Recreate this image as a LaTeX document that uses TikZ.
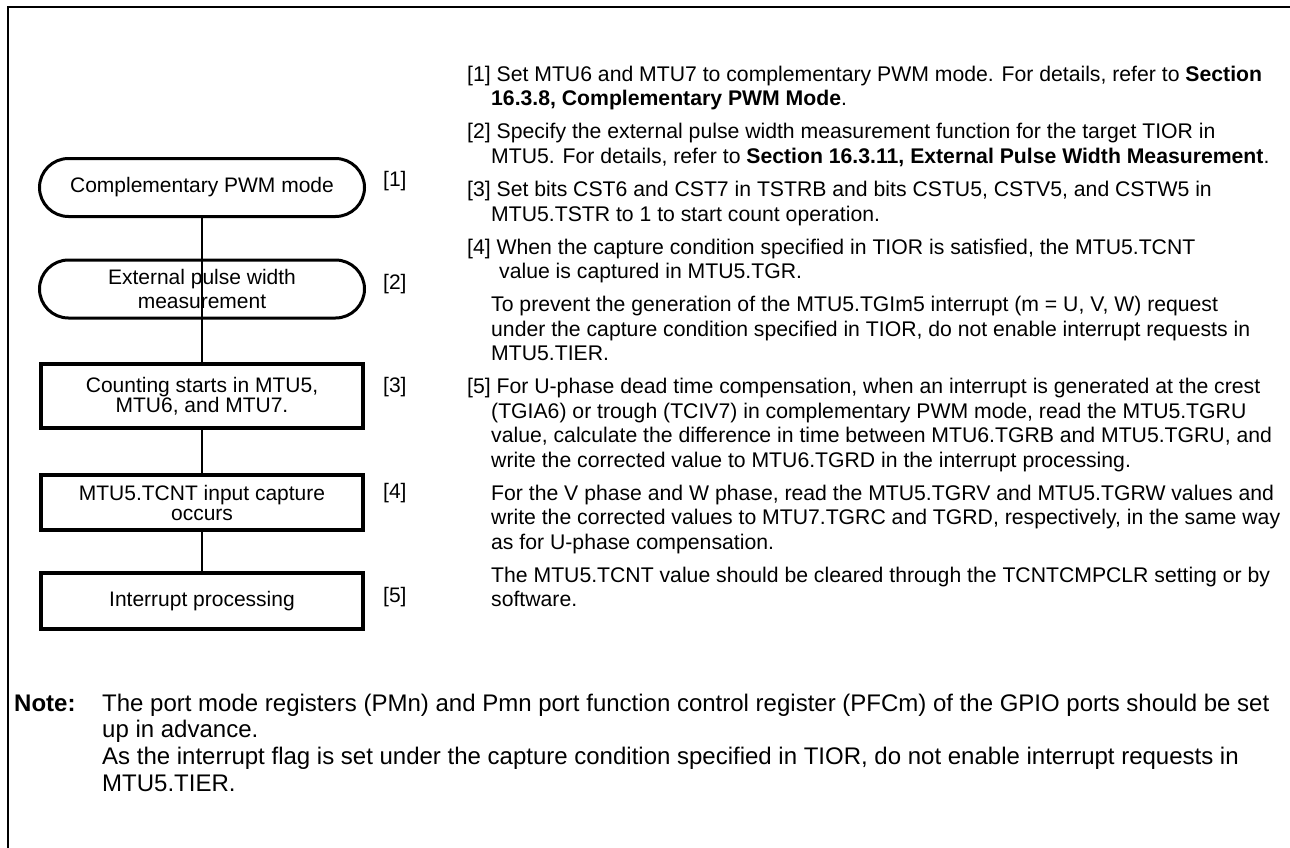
\documentclass[tikz,border=0pt]{standalone}
\usepackage{fontspec}
\setmainfont{Liberation Sans}
\begin{document}
\begin{tikzpicture}[x=1pt,y=-1pt,
  stad/.style={draw, line width=3pt, rectangle, rounded corners=29pt, minimum width=325pt, minimum height=58pt, inner sep=0pt, align=center, font=\fontsize{21}{24}\selectfont},
  proc/.style={draw, line width=4pt, rectangle, minimum width=322pt, inner sep=0pt, align=center, font=\fontsize{21}{20}\selectfont},
  lab/.style={anchor=west, inner sep=0pt, font=\fontsize{21}{24}\selectfont},
  conn/.style={line width=2.5pt},
  txt/.style={anchor=base west, inner sep=0pt, font=\fontsize{21.2}{25}\selectfont},
  notetxt/.style={anchor=base west, inner sep=0pt, font=\fontsize{24}{27}\selectfont},
  frame/.style={line width=2pt},
]
\useasboundingbox (0,0) rectangle (1290,848);
\draw[frame] (8,848) -- (8,7) -- (1290,7);

% flowchart
\node[stad] (b1) at (202,187.5) {Complementary PWM mode};
\node[stad] (b2) at (202,289) {External pulse width\\measurement};
\node[proc, minimum height=64pt] (b3) at (202,396) {Counting starts in MTU5,\\MTU6, and MTU7.};
\node[proc, minimum height=55pt] (b4) at (202,502.5) {MTU5.TCNT input capture\\occurs};
\node[proc, minimum height=56pt] (b5) at (202,601) {Interrupt processing};

\draw[conn] (b1.south) -- (b3.north);
\draw[conn] (b3.south) -- (b4.north);
\draw[conn] (b4.south) -- (b5.north);

\node[lab] (l1) at (383,181) {[1]};
\node[lab] (l2) at (383,284) {[2]};
\node[lab] (l3) at (383,387) {[3]};
\node[lab] (l4) at (383,493) {[4]};
\node[lab] (l5) at (383,597) {[5]};

% description text
\node[txt] (r1) at (467,81.5) {[1] Set MTU6 and MTU7 to complementary PWM mode. For details, refer to \textbf{Section}};
\node[txt] (r2) at (491,106) {\textbf{16.3.8, Complementary PWM Mode}.};
\node[txt] (r3) at (467,139) {[2] Specify the external pulse width measurement function for the target TIOR in};
\node[txt] (r4) at (491,163.5) {MTU5. For details, refer to \textbf{Section 16.3.11, External Pulse Width Measurement}.};
\node[txt] (r5) at (467,196.5) {[3] Set bits CST6 and CST7 in TSTRB and bits CSTU5, CSTV5, and CSTW5 in};
\node[txt] (r6) at (491,221) {MTU5.TSTR to 1 to start count operation.};
\node[txt] (r7) at (467,254) {[4] When the capture condition specified in TIOR is satisfied, the MTU5.TCNT};
\node[txt] (r8) at (499,278.5) {value is captured in MTU5.TGR.};
\node[txt] (r9) at (491,311.5) {To prevent the generation of the MTU5.TGIm5 interrupt (m = U, V, W) request};
\node[txt] (r10) at (491,336) {under the capture condition specified in TIOR, do not enable interrupt requests in};
\node[txt] (r11) at (491,360.5) {MTU5.TIER.};
\node[txt] (r12) at (467,393.5) {[5] For U-phase dead time compensation, when an interrupt is generated at the crest};
\node[txt] (r13) at (491,418) {(TGIA6) or trough (TCIV7) in complementary PWM mode, read the MTU5.TGRU};
\node[txt] (r14) at (491,442.5) {value, calculate the difference in time between MTU6.TGRB and MTU5.TGRU, and};
\node[txt] (r15) at (491,467) {write the corrected value to MTU6.TGRD in the interrupt processing.};
\node[txt] (r16) at (491,500) {For the V phase and W phase, read the MTU5.TGRV and MTU5.TGRW values and};
\node[txt] (r17) at (491,524.5) {write the corrected values to MTU7.TGRC and TGRD, respectively, in the same way};
\node[txt] (r18) at (491,549) {as for U-phase compensation.};
\node[txt] (r19) at (491,582) {The MTU5.TCNT value should be cleared through the TCNTCMPCLR setting or by};
\node[txt] (r20) at (491,606.5) {software.};

% note
\node[notetxt] (n0) at (14,711.5) {\textbf{Note:}};
\node[notetxt] (n1) at (102,711.5) {The port mode registers (PMn) and Pmn port function control register (PFCm) of the GPIO ports should be set};
\node[notetxt] (n2) at (102,737.5) {up in advance.};
\node[notetxt] (n3) at (102,764.5) {As the interrupt flag is set under the capture condition specified in TIOR, do not enable interrupt requests in};
\node[notetxt] (n4) at (102,791) {MTU5.TIER.};
\end{tikzpicture}
\end{document}
